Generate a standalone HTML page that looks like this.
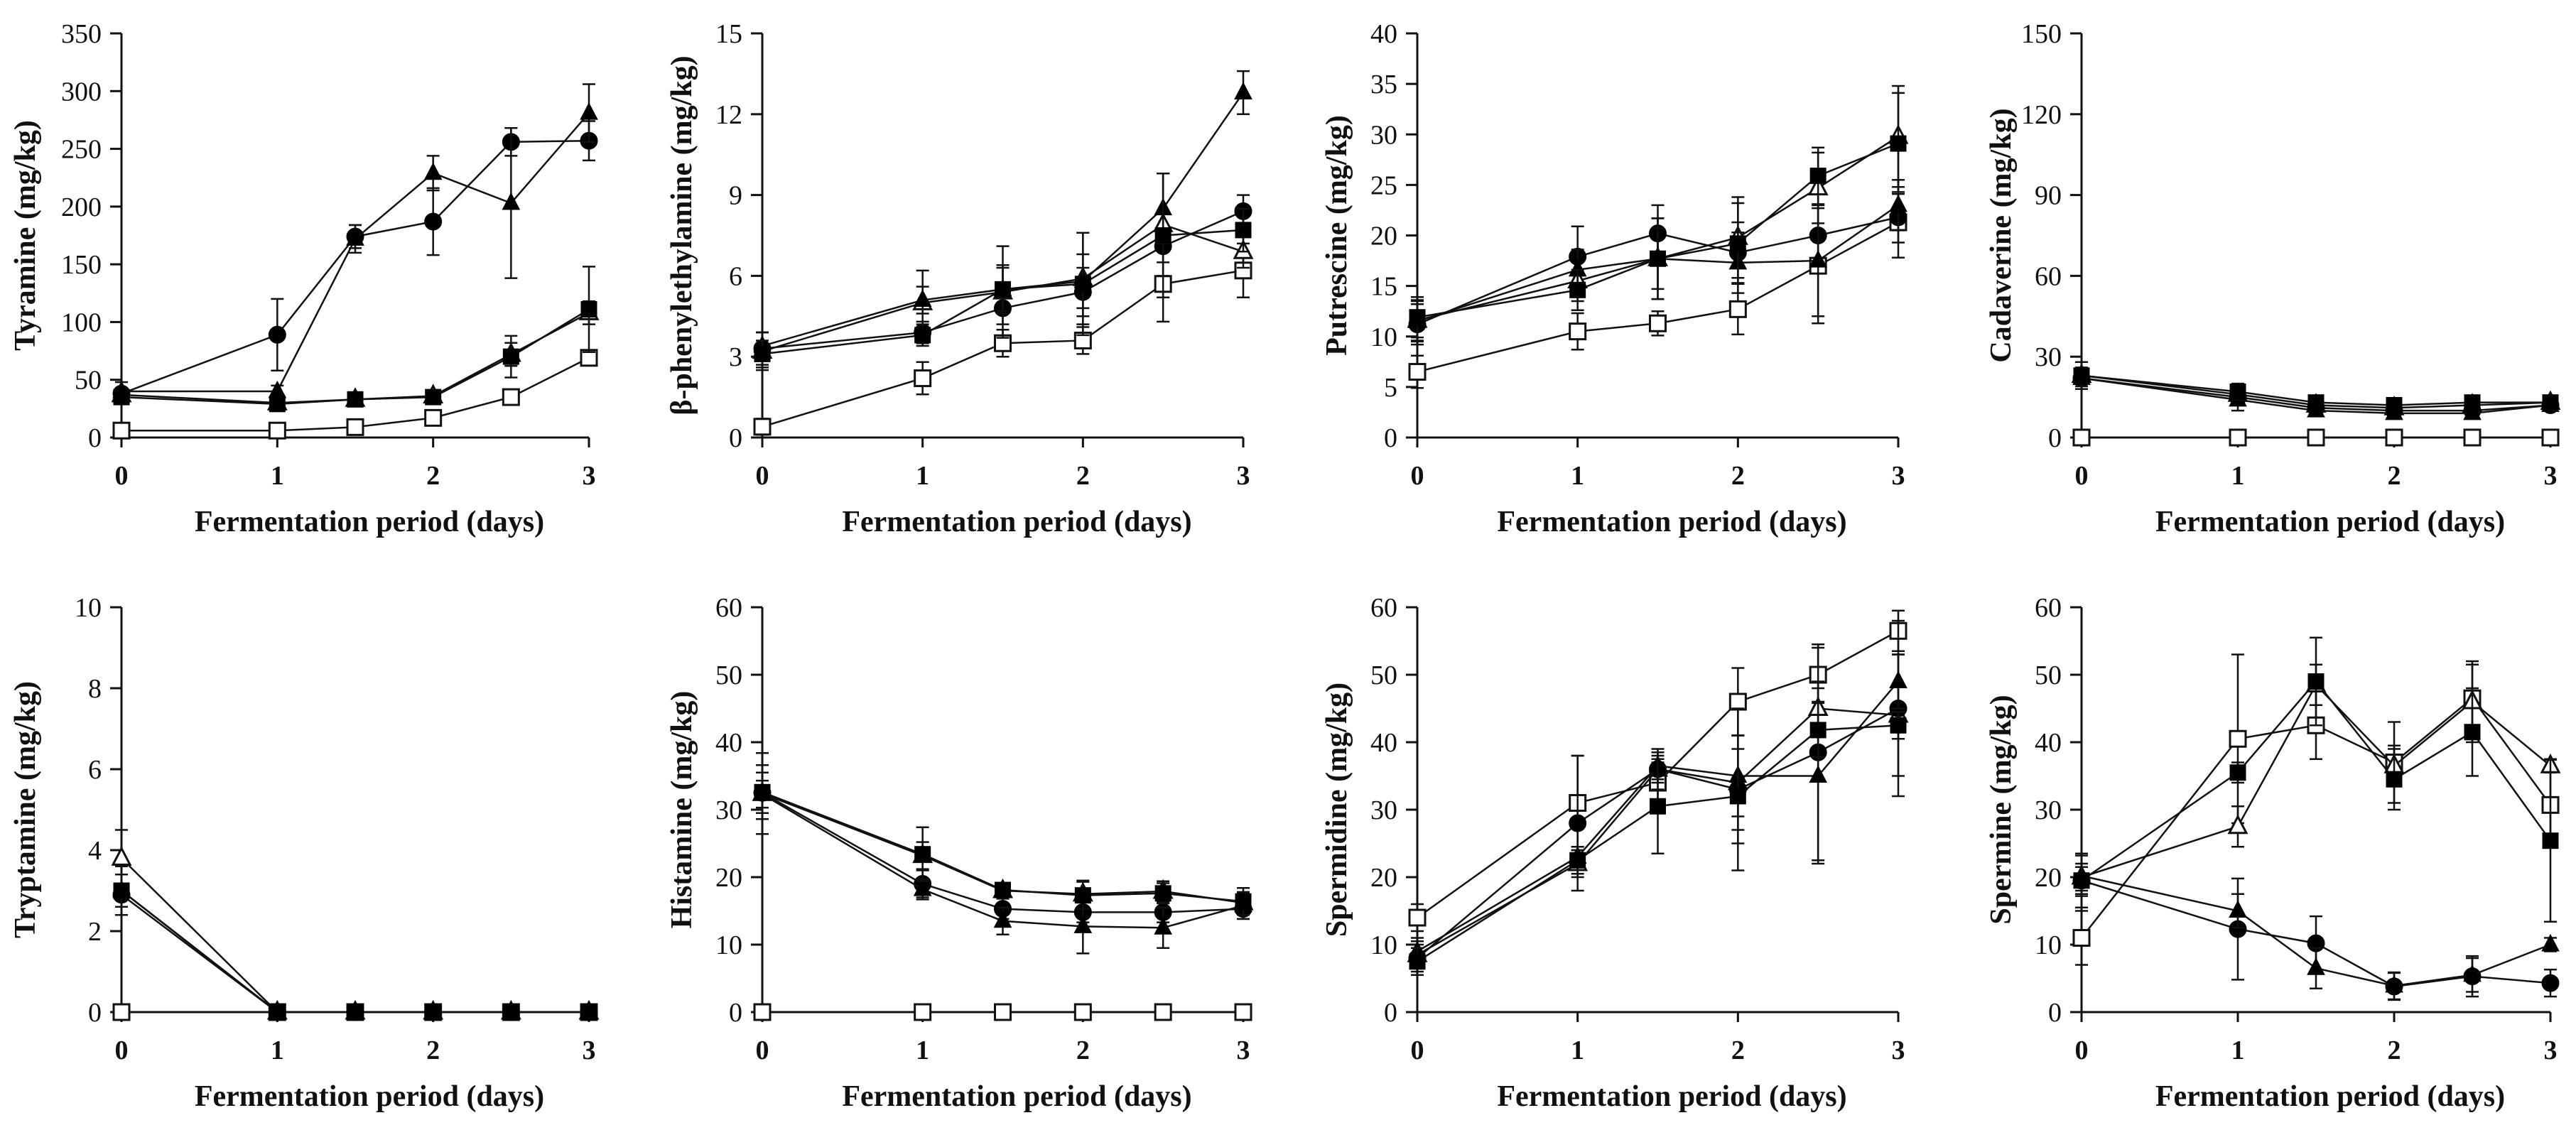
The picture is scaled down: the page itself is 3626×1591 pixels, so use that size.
<!DOCTYPE html>
<html><head><meta charset="utf-8">
<style>
html,body{margin:0;padding:0;background:#fff;}
svg{display:block;}
text{font-family:"Liberation Serif",serif;fill:#111;}
</style></head>
<body>
<svg id="fig" width="3626" height="1591" viewBox="0 0 3626 1591" xmlns="http://www.w3.org/2000/svg"></svg>
<script>
const days = [0, 1, 1.5, 2, 2.5, 3];
const xTicks = [0, 1, 2, 3];
const seriesKinds = ['circle-filled', 'triangle-filled', 'square-filled', 'triangle-open', 'square-open'];
const drawOrder = [4, 3, 0, 1, 2];

const titles = ['Tyramine  (mg/kg)', 'β-phenylethylamine (mg/kg)', 'Putrescine (mg/kg)', 'Cadaverine (mg/kg)',
                'Tryptamine (mg/kg)', 'Histamine (mg/kg)', 'Spermidine (mg/kg)', 'Spermine (mg/kg)'];
const yMax = [350, 15, 40, 150, 10, 60, 60, 60];
const yStep = [50, 3, 5, 30, 2, 10, 10, 10];

const tyramineVals = [[38,89,174,187,256,257],[40,40,172,229,203,281],[35,29,33,35,70,111],[37,30,33,36,72,108],[6,6,9,17,35,69]];
const tyramineErr = [[5,31,10,29,12,17],[8,5,12,15,65,25],[5,5,3,3,18,37],[5,5,3,3,10,10],[2,3,2,3,5,6]];
const pheVals = [[3.3,3.9,4.8,5.4,7.1,8.4],[3.4,5.1,5.5,5.8,8.5,12.8],[3.1,3.8,5.5,5.7,7.5,7.7],[3.2,5.0,5.4,5.9,7.9,6.9],[0.4,2.2,3.5,3.6,5.7,6.2]];
const pheErr = [[0.6,0.4,0.6,0.9,0.6,0.6],[0.5,0.5,0.8,1.0,1.3,0.8],[0.5,0.4,0.9,1.9,2.3,0.8],[0.7,1.2,1.7,1.7,1.9,0.6],[0.3,0.6,0.5,0.5,1.4,1.0]];
const putVals = [[11.2,17.9,20.2,18.3,20.0,21.8],[11.5,16.6,17.7,17.3,17.5,23.0],[11.9,14.6,17.7,19.2,25.9,29.1],[11.6,15.5,17.7,19.8,24.7,29.8],[6.5,10.5,11.3,12.7,17.0,21.3]];
const putErr = [[2,3,2.8,3,3,2.5],[2,2,3,3,5.5,2.5],[2,2,4,4,2.8,5],[2,2,4,4,3.5,5],[1.6,1.8,1.2,2.5,5.7,3.5]];
const cadVals = [[22,15,11,10,10,12],[22,14,10,9,9,12],[23,17,13,12,13,13],[23,16,12,11,12,13],[0,0,0,0,0,0]];
const cadErr = [[3,3,2,2,2,2],[3,4,2,2,2,2],[5,3,2,2,2,2],[3,3,2,2,2,2],[0,0,0,0,0,0]];
const tryVals = [[2.9,0,0,0,0,0],[3.0,0,0,0,0,0],[3.0,0,0,0,0,0],[3.8,0,0,0,0,0],[0,0,0,0,0,0]];
const tryErr = [[0.5,0,0,0,0,0],[0.6,0,0,0,0,0],[0.4,0,0,0,0,0],[0.7,0,0,0,0,0],[0,0,0,0,0,0]];
const hisVals = [[32.5,19,15.3,14.8,14.8,15.3],[32.3,18.2,13.5,12.7,12.5,15.8],[32.6,23.4,18.1,17.3,17.6,16.4],[32.4,23.2,18.0,17.5,17.9,16.2],[0,0,0,0,0,0]];
const hisErr = [[3,2,1.5,1.5,1.5,1.5],[2,1.5,2,4,3,2],[4,4,1,2,1.5,2],[6,2,1,2,1.5,1.5],[0,0,0,0,0,0]];
const spdVals = [[8,28,36,33,38.5,45],[9,23,36.5,35,35,49],[7.5,22.5,30.5,32,41.8,42.5],[8.5,22,36,34,45,44],[14,31,34,46,50,56.5]];
const spdErr = [[2,10,3,12,16,13],[2,1.5,2,6,13,4],[2,2,7,7,4,2],[2,2,2,7,4,9],[2,7,3,5,4,3]];
const spmVals = [[19.5,12.3,10.2,3.8,5.3,4.3],[20.2,15,6.5,3.9,5.5,10],[19.5,35.5,49,34.5,41.5,25.4],[20,27.5,48.5,36.5,46,36.5],[11,40.5,42.5,37,46.5,30.7]];
const spmErr = [[4,7.5,4,2,3,2],[3,2.5,3,2,2.5,1],[2,1.5,6.5,4.5,6.5,12],[2,3,3,3,6,1],[4,12.5,5,6,5,5]];

const allVals = [tyramineVals, pheVals, putVals, cadVals, tryVals, hisVals, spdVals, spmVals];
const allErr = [tyramineErr, pheErr, putErr, cadErr, tryErr, hisErr, spdErr, spmErr];
const panelNames = ['tyramine','phenylethylamine','putrescine','cadaverine','tryptamine','histamine','spermidine','spermine'];

const colX = [[171,829],[1073,1750],[1995,2672],[2930,3590]];
const rowY = [[47,616],[855,1425]];
const NS = 'http://www.w3.org/2000/svg';
const svg = document.getElementById('fig');

function mk(tag, attrs, parent){
  const e = document.createElementNS(NS, tag);
  for (const k in attrs) e.setAttribute(k, attrs[k]);
  parent.appendChild(e);
  return e;
}

for (let p = 0; p < 8; p++){
  const c = p % 4, r = Math.floor(p / 4);
  const [x0, x1] = colX[c], [yt, yb] = rowY[r];
  const xs = v => x0 + (x1 - x0) * v / 3;
  const ys = v => yb - (yb - yt) * v / yMax[p];
  const g = mk('g', {}, svg);
  
  

  const ax = mk('g', {stroke:'#111','stroke-width':3}, g);
  
  
  mk('line', {x1:x0, y1:yt, x2:x0, y2:yb}, ax);
  mk('line', {x1:x0-16, y1:yb, x2:x1, y2:yb}, ax);
  for (let v = 0; v <= yMax[p] + 1e-9; v += yStep[p]){
    mk('line', {x1:x0-16, y1:ys(v), x2:x0, y2:ys(v)}, ax);
    const t = mk('text', {x:x0-28, y:ys(v)+13, 'text-anchor':'end','font-size':38}, g);
    t.textContent = String(Math.round(v*100)/100);
    
    
  }
  xTicks.forEach(v => {
    mk('line', {x1:xs(v), y1:yb, x2:xs(v), y2:yb+14}, ax);
    const t = mk('text', {x:xs(v), y:yb+66, 'text-anchor':'middle','font-size':38,'font-weight':'bold'}, g);
    t.textContent = String(v);
    
    
  });
  const xt = mk('text', {x:(x0+x1)/2 + 20, y:yb+132, 'text-anchor':'middle','font-size':42,'font-weight':'bold'}, g);
  xt.textContent = 'Fermentation period (days)';
  
  
  const tx = x0 - (c === 0 ? 122 : 100), ty = (yt + yb) / 2;
  const yTitle = mk('text', {x:tx, y:ty, 'text-anchor':'middle','font-size':42,'font-weight':'bold', transform:`rotate(-90 ${tx} ${ty})`}, g);
  yTitle.textContent = titles[p];
  
  

  const vals = allVals[p], errs = allErr[p];
  drawOrder.forEach(s => {
    const sg = mk('g', {}, g);
    
    
    const pts = days.map((d, i) => xs(d) + ',' + ys(vals[s][i])).join(' ');
    mk('polyline', {points:pts, fill:'none', stroke:'#111', 'stroke-width':2.5}, sg);
    days.forEach((d, i) => {
      const e = errs[s][i];
      if (e > 0){
        const X = xs(d), a = ys(vals[s][i] - e), b = ys(vals[s][i] + e);
        const eb = mk('path', {d:`M${X},${a}V${b}M${X-9},${a}h18M${X-9},${b}h18`, stroke:'#111','stroke-width':2.5, fill:'none'}, sg);
        
        
      }
    });
    days.forEach((d, i) => {
      const X = xs(d), Y = ys(vals[s][i]);
      const kind = seriesKinds[s];
      const filled = kind.endsWith('filled');
      const st = filled ? {fill:'#000', stroke:'#000', 'stroke-width':1} : {fill:'#fff', stroke:'#111', 'stroke-width':3};
      let m;
      if (kind.startsWith('circle')) m = mk('circle', Object.assign({cx:X, cy:Y, r:12}, st), sg);
      else if (kind.startsWith('square')) m = mk('rect', Object.assign({x:X-11, y:Y-11, width:22, height:22}, st), sg);
      else m = mk('polygon', Object.assign({points:`${X},${Y-14} ${X-12},${Y+9} ${X+12},${Y+9}`}, st), sg);
      
      
    });
  });
}
</script>
</body></html>
